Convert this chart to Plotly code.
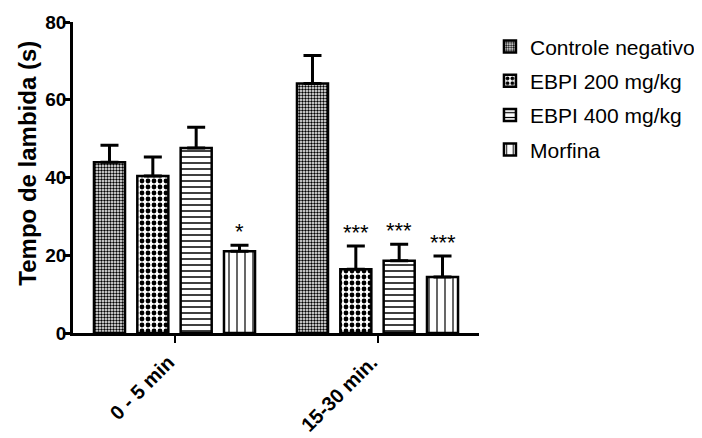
import plotly.graph_objects as go

categories = ["0 - 5 min", "15-30 min."]
series_names = ["Controle negativo", "EBPI 200 mg/kg", "EBPI 400 mg/kg", "Morfina"]
means = {
    "Controle negativo": [43.9, 64.2],
    "EBPI 200 mg/kg": [40.4, 16.4],
    "EBPI 400 mg/kg": [47.6, 18.6],
    "Morfina": [21.0, 14.4],
}
sems = {
    "Controle negativo": [4.4, 7.2],
    "EBPI 200 mg/kg": [4.9, 6.0],
    "EBPI 400 mg/kg": [5.3, 4.2],
    "Morfina": [1.6, 5.4],
}
stars = {
    "Controle negativo": ["", ""],
    "EBPI 200 mg/kg": ["", "***"],
    "EBPI 400 mg/kg": ["", "***"],
    "Morfina": ["*", "***"],
}
y_ticks = [0, 20, 40, 60, 80]
y_title = "Tempo de lambida (s)"

patterns = {
    "Controle negativo": dict(shape=".", size=3, solidity=0.5),
    "EBPI 200 mg/kg": dict(shape=".", size=6, solidity=0.5),
    "EBPI 400 mg/kg": dict(shape="-", size=6, solidity=0.25),
    "Morfina": dict(shape="|", size=8, solidity=0.15),
}

FONT = "Liberation Sans, Arial, Helvetica, sans-serif"
W, H = 702, 438
# page body has an 8px margin; margins compensate for it
ML, MR, MT, MB = 65, 231, 14, 113
BARGAP, BARGROUPGAP = 0.146, 0.284
XRANGE = [-0.5, 1.5]

fig = go.Figure()
for name in series_names:
    p = patterns[name]
    fig.add_trace(go.Bar(
        x=categories, y=means[name], name=name, legendgroup=name,
        marker=dict(color="white", line=dict(color="black", width=2.5),
                    pattern=dict(shape=p["shape"], size=p["size"], solidity=p["solidity"],
                                 fgcolor="black", bgcolor="white", fillmode="replace")),
        error_y=dict(type="data", array=sems[name], arrayminus=[0] * len(categories),
                     symmetric=False, color="black", thickness=3, width=9),
    ))

# star annotations placed above each error bar
plot_w = W - ML - MR
unit_px = plot_w / (XRANGE[1] - XRANGE[0])
slot_px = unit_px * (1 - BARGAP) / len(series_names)
annotations = []
for i, name in enumerate(series_names):
    shift = (i - (len(series_names) - 1) / 2) * slot_px
    for j, cat in enumerate(categories):
        if stars[name][j]:
            annotations.append(dict(
                x=cat, y=means[name][j] + sems[name][j], xref="x", yref="y",
                text=stars[name][j], showarrow=False, xshift=shift, yshift=-1,
                yanchor="bottom", xanchor="center",
                font=dict(family=FONT, size=22, color="black"),
            ))

annotations.append(dict(
    x=-0.113, y=0.545, xref="paper", yref="paper", text=y_title, textangle=-90,
    showarrow=False, xanchor="center", yanchor="middle",
    font=dict(family=FONT, size=24, color="black", weight="bold"),
))

fig.update_layout(
    width=W, height=H,
    margin=dict(l=ML, r=MR, t=MT, b=MB, autoexpand=False),
    paper_bgcolor="white", plot_bgcolor="white",
    barmode="group", bargap=BARGAP, bargroupgap=BARGROUPGAP,
    font=dict(family=FONT, color="black"),
    showlegend=True,
    legend=dict(x=1.027, y=0.986, xanchor="left", yanchor="top",
                font=dict(family=FONT, size=21, color="black"),
                traceorder="grouped", tracegroupgap=4,
                bgcolor="rgba(0,0,0,0)"),
    annotations=annotations,
    xaxis=dict(range=XRANGE, showline=True, linecolor="black", linewidth=2.5,
               ticks="outside", ticklen=7, tickwidth=2, tickcolor="black",
               tickangle=-45, showgrid=False, zeroline=False, automargin=False,
               ticklabelstandoff=0, ticklabelshift=-6,
               tickfont=dict(family=FONT, size=20, color="black", weight="bold")),
    yaxis=dict(range=[0, 80], tickvals=y_ticks, showline=True, linecolor="black",
               linewidth=2.5, ticks="outside", ticklen=7, tickwidth=2.5,
               tickcolor="black", showgrid=False, zeroline=False, automargin=False,
               ticklabelstandoff=-7,
               tickfont=dict(family=FONT, size=19, color="black", weight="bold")),
)

fig.write_html("out.html")
